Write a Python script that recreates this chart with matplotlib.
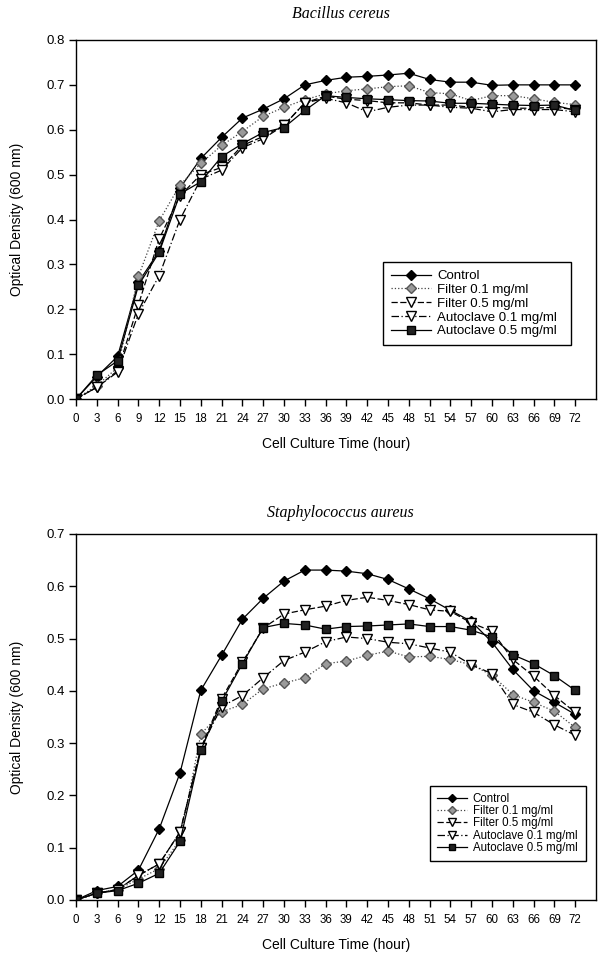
import matplotlib
matplotlib.use("Agg")
import matplotlib.pyplot as plt
from matplotlib.lines import Line2D

hours = list(range(0, 73, 3))
series_names = ["Control", "Filter 0.1 mg/ml", "Filter 0.5 mg/ml",
                "Autoclave 0.1 mg/ml", "Autoclave 0.5 mg/ml"]

# Bacillus cereus
bc_control = [0, 0.05, 0.095, 0.26, 0.33, 0.47, 0.536, 0.583, 0.626, 0.646, 0.669, 0.700, 0.710,
              0.717, 0.719, 0.722, 0.726, 0.712, 0.706, 0.706, 0.699, 0.700, 0.700, 0.700, 0.700]
bc_filter01 = [0, 0.03, 0.07, 0.273, 0.397, 0.477, 0.525, 0.565, 0.596, 0.630, 0.650, 0.667, 0.680,
               0.687, 0.691, 0.696, 0.698, 0.683, 0.680, 0.665, 0.676, 0.676, 0.669, 0.661, 0.656]
bc_filter05 = [0, 0.026, 0.063, 0.21, 0.357, 0.453, 0.500, 0.516, 0.565, 0.585, 0.610, 0.660, 0.675,
               0.668, 0.665, 0.660, 0.660, 0.655, 0.655, 0.650, 0.650, 0.648, 0.648, 0.650, 0.645]
bc_auto01 = [0, 0.026, 0.060, 0.19, 0.275, 0.400, 0.490, 0.510, 0.560, 0.580, 0.610, 0.660, 0.670,
             0.660, 0.640, 0.650, 0.655, 0.655, 0.650, 0.648, 0.640, 0.645, 0.645, 0.645, 0.640]
bc_auto05 = [0, 0.053, 0.085, 0.253, 0.327, 0.457, 0.484, 0.540, 0.569, 0.594, 0.605, 0.643, 0.676,
             0.672, 0.669, 0.667, 0.665, 0.664, 0.659, 0.659, 0.657, 0.655, 0.654, 0.655, 0.643]

# Staphylococcus aureus
sa_control = [0, 0.018, 0.026, 0.057, 0.136, 0.243, 0.401, 0.468, 0.537, 0.577, 0.610, 0.631, 0.631,
              0.629, 0.624, 0.613, 0.595, 0.576, 0.554, 0.533, 0.493, 0.441, 0.400, 0.378, 0.355]
sa_filter01 = [0, 0.013, 0.020, 0.040, 0.060, 0.115, 0.317, 0.360, 0.374, 0.404, 0.415, 0.425, 0.452,
               0.457, 0.468, 0.476, 0.465, 0.466, 0.460, 0.450, 0.430, 0.393, 0.378, 0.361, 0.330]
sa_filter05 = [0, 0.013, 0.020, 0.047, 0.069, 0.130, 0.290, 0.385, 0.455, 0.520, 0.547, 0.555, 0.562,
               0.573, 0.579, 0.573, 0.565, 0.555, 0.552, 0.530, 0.514, 0.460, 0.428, 0.391, 0.359]
sa_auto01 = [0, 0.013, 0.020, 0.047, 0.069, 0.130, 0.290, 0.370, 0.391, 0.425, 0.458, 0.474, 0.494,
             0.503, 0.500, 0.493, 0.490, 0.482, 0.474, 0.450, 0.433, 0.374, 0.359, 0.335, 0.315]
sa_auto05 = [0, 0.013, 0.018, 0.032, 0.051, 0.112, 0.286, 0.380, 0.452, 0.521, 0.529, 0.526, 0.518,
             0.523, 0.524, 0.526, 0.528, 0.523, 0.523, 0.516, 0.503, 0.469, 0.452, 0.429, 0.401]

bc_yticks = [0.0, 0.1, 0.2, 0.3, 0.4, 0.5, 0.6, 0.7, 0.8]
sa_yticks = [0.0, 0.1, 0.2, 0.3, 0.4, 0.5, 0.6, 0.7]

styles = [
    dict(color="black", linestyle="-", marker="D", mfc="black", mec="black", ms=5),
    dict(color="#444444", linestyle=":", marker="D", mfc="#9a9a9a", mec="#555555", ms=5),
    dict(color="black", linestyle=(0, (5, 2)), marker="v", mfc="white", mec="black", ms=6.5),
    dict(color="black", linestyle=(0, (6, 2, 1, 2)), marker="v", mfc="white", mec="black", ms=6.5),
    dict(color="black", linestyle="-", marker="s", mfc="#222222", mec="black", ms=5.5),
]

sans = ["Liberation Sans", "DejaVu Sans"]
serif = ["Liberation Serif", "DejaVu Serif"]

fig = plt.figure(figsize=(5.98, 9.6), dpi=100)


def draw(ax, data, yticks, title, legend_box, leg_fs, title_y, hl, ls, hms):
    for vals, st, name in zip(data, styles, series_names):
        ax.plot(hours, vals, lw=0.9, label=name, **st)
    ax.set_xlim(0, 75)
    ax.set_ylim(yticks[0], yticks[-1])
    ax.set_xticks(hours)
    ax.set_xticklabels([str(h) for h in hours], family=sans, fontsize=8.3)
    ax.set_yticks(yticks)
    ax.set_yticklabels([f"{v:.1f}" for v in yticks], family=sans, fontsize=9.5)
    ax.tick_params(direction="out", length=5, width=1, pad=3)
    ax.tick_params(axis="x", pad=5)
    for s in ax.spines.values():
        s.set_linewidth(1.0)
    ax.set_xlabel("Cell Culture Time (hour)", family=sans, fontsize=10, labelpad=9)
    ax.set_ylabel("Optical Density (600 nm)", family=sans, fontsize=10, labelpad=16)
    fig.text(0.57, title_y, title, family=serif, style="italic", fontsize=11.5,
             ha="center", va="center")
    handles = []
    for st in styles:
        d = dict(st)
        d["ms"] = st["ms"] * hms
        handles.append(Line2D([0], [0], lw=0.9, **d))
    leg = ax.legend(handles, series_names, loc="upper left", bbox_to_anchor=legend_box,
                    mode="expand", frameon=True, fancybox=False, edgecolor="black",
                    framealpha=1, prop={"family": sans, "size": leg_fs}, handlelength=hl,
                    handletextpad=0.5, labelspacing=ls, borderpad=0.6,
                    borderaxespad=0)
    leg.get_frame().set_linewidth(1.0)


W = 520
H1 = 399 - 40
ax1 = fig.add_axes([76 / 598, 1 - 399 / 960, W / 598, H1 / 960])
draw(ax1, [bc_control, bc_filter01, bc_filter05, bc_auto01, bc_auto05], bc_yticks,
     "Bacillus cereus",
     ((383 - 76) / W, (399 - 343) / H1, (571 - 383) / W, (343 - 262) / H1),
     9.5, 1 - 14 / 960, 3.0, 0.12, 1.0)

H2 = 900 - 534
ax2 = fig.add_axes([76 / 598, 1 - 900 / 960, W / 598, H2 / 960])
draw(ax2, [sa_control, sa_filter01, sa_filter05, sa_auto01, sa_auto05], sa_yticks,
     "Staphylococcus aureus",
     ((430 - 76) / W, (900 - 857) / H2, (586 - 430) / W, (857 - 786) / H2),
     8.3, 1 - 513 / 960, 2.6, 0.02, 0.85)

fig.savefig("out.png", dpi=100)
